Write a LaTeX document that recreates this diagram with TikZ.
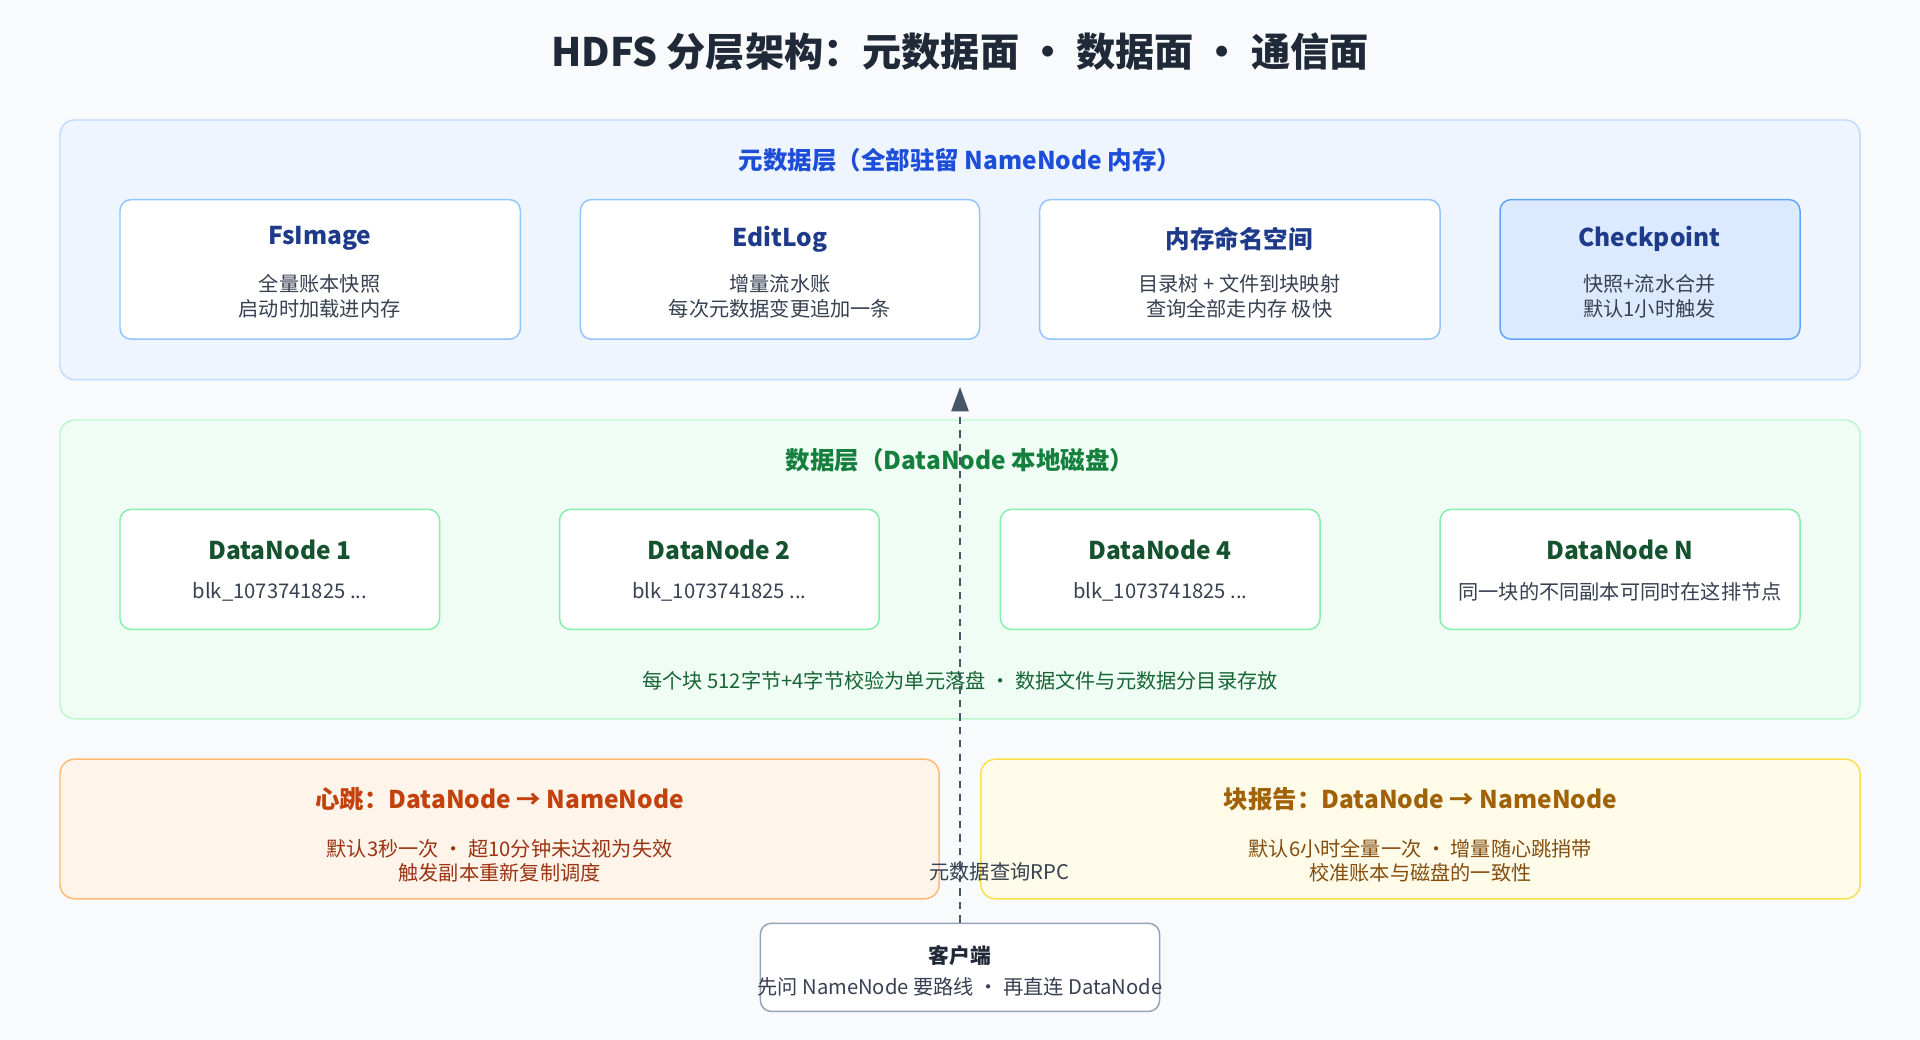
\documentclass[tikz,border=0pt]{standalone}
\usepackage{fontspec}
\setmainfont{Noto Sans CJK SC}
\usetikzlibrary{arrows.meta}
\definecolor{bg}{HTML}{F8FAFC}
\definecolor{tdark}{HTML}{1F2937}
\definecolor{metaF}{HTML}{EEF5FF}\definecolor{metaB}{HTML}{BFDBFE}
\definecolor{metaT}{HTML}{1D4ED8}\definecolor{boxB}{HTML}{93C5FD}
\definecolor{boxT}{HTML}{1E3A8A}\definecolor{body}{HTML}{374151}
\definecolor{ckF}{HTML}{DBEAFE}\definecolor{ckB}{HTML}{60A5FA}
\definecolor{dataF}{HTML}{EFFDF4}\definecolor{dataB}{HTML}{BBF7D0}
\definecolor{dataT}{HTML}{15803D}\definecolor{dnB}{HTML}{86EFAC}
\definecolor{dnT}{HTML}{14532D}\definecolor{dataN}{HTML}{166534}
\definecolor{hbF}{HTML}{FFF4EA}\definecolor{hbB}{HTML}{FDBA74}
\definecolor{hbT}{HTML}{C2410C}\definecolor{hbN}{HTML}{9A3412}
\definecolor{brF}{HTML}{FEFBE8}\definecolor{brB}{HTML}{FDE047}
\definecolor{brT}{HTML}{A16207}\definecolor{brN}{HTML}{854D0E}
\definecolor{clB}{HTML}{94A3B8}\definecolor{arr}{HTML}{475569}
\newcommand\blkid{blk\_1073741825 ...}
\begin{document}
\begin{tikzpicture}[x=1pt,y=-1pt,
  panel/.style={draw=#1,line width=1.2pt,rounded corners=12pt},
  card/.style={draw=#1,line width=1.2pt,rounded corners=9pt,fill=white},
  ttl/.style={font=\bfseries\fontsize{20}{24}\selectfont,text=#1},
  txt/.style={font=\fontsize{16.5}{20}\selectfont,text=#1,align=center}]
\useasboundingbox[fill=bg] (0,0) rectangle (1568,849);
\node[font=\bfseries\fontsize{32}{38}\selectfont,text=tdark] (title) at (784,42) {HDFS 分层架构：元数据面 • 数据面 • 通信面};
% metadata layer
\draw[panel=metaB,fill=metaF] (49,98) rectangle (1519,310);
\node[ttl=metaT] (mt) at (784,131) {元数据层（全部驻留 NameNode 内存）};
\draw[card=boxB] (98,163) rectangle (425,277);
\draw[card=boxB] (474,163) rectangle (800,277);
\draw[card=boxB] (849,163) rectangle (1176,277);
\draw[card=ckB,fill=ckF] (1225,163) rectangle (1470,277);
\node[ttl=boxT] (f1) at (261,195) {FsImage};
\node[txt=body] (f2) at (261,242) {全量账本快照\\启动时加载进内存};
\node[ttl=boxT] (e1) at (637,195) {EditLog};
\node[txt=body] (e2) at (637,242) {增量流水账\\每次元数据变更追加一条};
\node[ttl=boxT] (n1) at (1012,195) {内存命名空间};
\node[txt=body] (n2) at (1012,242) {目录树 + 文件到块映射\\查询全部走内存 极快};
\node[ttl=boxT] (c1) at (1347,195) {Checkpoint};
\node[txt=body] (c2) at (1347,242) {快照+流水合并\\默认1小时触发};
% data layer
\draw[panel=dataB,fill=dataF] (49,343) rectangle (1519,587);
\node[ttl=dataT] (dt) at (784,376) {数据层（DataNode 本地磁盘）};
\foreach \a/\b/\n/\s in {98/359/DataNode 1/\blkid,457/718/DataNode 2/\blkid,817/1078/DataNode 4/\blkid,1176/1470/DataNode N/同一块的不同副本可同时在这排节点}{
  \draw[card=dnB] (\a,416) rectangle (\b,514);
  \node[ttl=dnT] at ({(\a+\b)/2},449) {\n};
  \node[txt=body] at ({(\a+\b)/2},483) {\s};
}
\node[txt=dataN] (dn) at (784,556) {每个块 512字节+4字节校验为单元落盘 · 数据文件与元数据分目录存放};
% comm
\draw[panel=hbB,fill=hbF] (49,620) rectangle (767,734);
\node[ttl=hbT] (h1) at (408,653) {心跳：DataNode → NameNode};
\node[txt=hbN] (h2) at (408,703) {默认3秒一次 · 超10分钟未达视为失效\\触发副本重新复制调度};
\draw[panel=brB,fill=brF] (801,620) rectangle (1519,734);
\node[ttl=brT] (b1) at (1160,653) {块报告：DataNode → NameNode};
\node[txt=brN] (b2) at (1160,703) {默认6小时全量一次 · 增量随心跳捎带\\校准账本与磁盘的一致性};
% client
\node[draw=clB,line width=1.2pt,rounded corners=9pt,fill=white,minimum width=326pt,minimum height=72pt] (client) at (784,790) {};
\node[font=\bfseries\fontsize{17}{20}\selectfont,text=tdark] at (784,780) {客户端};
\node[txt=body] at (784,806) {先问 NameNode 要路线 · 再直连 DataNode};
\coordinate (top) at (784,316);
\draw[arr,line width=2pt,dash pattern=on 6pt off 5pt,-{Triangle[length=20pt,width=14pt]}] (client.north) -- (top);
\node[txt=body] (rpc) at (816,712) {元数据查询RPC};
\end{tikzpicture}
\end{document}
